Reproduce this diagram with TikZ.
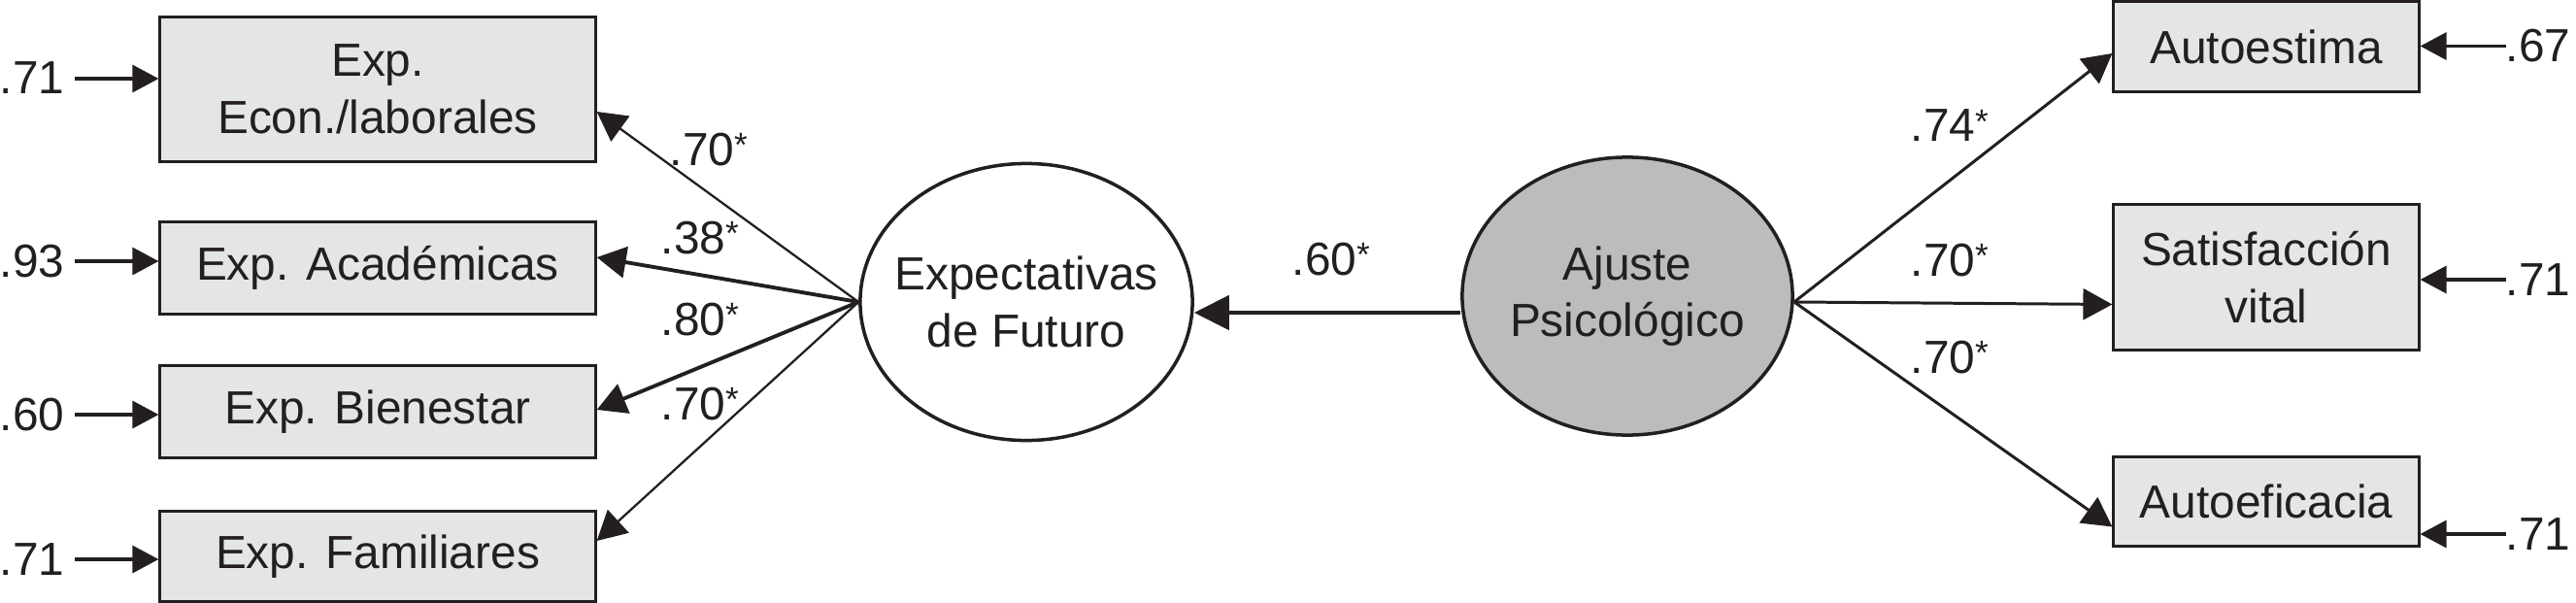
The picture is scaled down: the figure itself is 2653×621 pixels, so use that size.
\documentclass[tikz,border=0pt]{standalone}
\usepackage{fontspec}
\setmainfont{Liberation Sans}
\usetikzlibrary{arrows.meta,calc,shapes.geometric}
\definecolor{ink}{RGB}{35,31,32}
\definecolor{boxfill}{RGB}{228,229,231}
\definecolor{latfill}{RGB}{187,188,190}
\newcommand{\sg}{\raisebox{2.5pt}{\fontsize{10}{10}\selectfont *}}
\begin{document}
\begin{tikzpicture}[x=0.01cm,y=-0.01cm,
  font=\fontsize{13.6}{16.7}\selectfont,
  obsL/.style={rectangle,draw=ink,line width=0.85pt,fill=boxfill,minimum width=4.48cm,align=center,inner sep=0pt,text=ink},
  obsR/.style={rectangle,draw=ink,line width=0.85pt,fill=boxfill,minimum width=3.14cm,align=center,inner sep=0pt,text=ink},
  lat/.style={ellipse,draw=ink,line width=1pt,inner sep=0pt},
  lattext/.style={align=center,inner sep=0pt,text=ink},
  pthin/.style={draw=ink,line width=0.65pt,-{Triangle[length=0.30cm,width=0.32cm]}},
  pthick/.style={draw=ink,line width=1.1pt,-{Triangle[length=0.30cm,width=0.32cm]}},
  pright/.style={draw=ink,line width=0.85pt,-{Triangle[length=0.30cm,width=0.32cm]}},
  pmain/.style={draw=ink,line width=1.4pt,-{Triangle[length=0.36cm,width=0.35cm]}},
  res/.style={draw=ink,line width=0.95pt,-{Triangle[length=0.27cm,width=0.28cm]}},
  coef/.style={anchor=base west,inner sep=0pt,text=ink},
  errL/.style={anchor=base east,inner sep=0pt,text=ink},
  errR/.style={anchor=base west,inner sep=0pt,text=ink}]
\useasboundingbox (0,0) rectangle (2653,621);

% observed indicators (left)
\node[obsL,minimum height=1.48cm] (b1) at (389,92) {Exp.\\Econ./laborales};
\node[obsL,minimum height=0.94cm] (b2) at (389,276) {Exp. Académicas};
\node[obsL,minimum height=0.94cm] (b3) at (389,424) {Exp. Bienestar};
\node[obsL,minimum height=0.92cm] (b4) at (389,573) {Exp. Familiares};

% observed indicators (right)
\node[obsR,minimum height=0.92cm] (a1) at (2334,48) {Autoestima};
\node[obsR,minimum height=1.49cm] (a2) at (2334,285.5) {Satisfacción\\vital};
\node[obsR,minimum height=0.91cm] (a3) at (2334,516.5) {Autoeficacia};

% latent variables
\node[lat,fill=white,minimum width=3.42cm,minimum height=2.85cm] (ef) at (1057,311) {};
\node[lattext] (eft) at (ef.center) {Expectativas\\de Futuro};
\node[lat,fill=latfill,minimum width=3.40cm,minimum height=2.86cm] (aj) at (1676,305) {};
\node[lattext] (ajt) at (aj.center) {Ajuste\\Psicológico};

% loadings left
\draw[pthin]  (ef.west) -- ($(b1.east)+(0,23)$);
\draw[pthick] (ef.west) -- ($(b2.east)+(0,-11)$);
\draw[pthick] (ef.west) -- ($(b3.east)+(0,-2)$);
\draw[pthin]  (ef.west) -- ($(b4.east)+(0,-16)$);

% structural path
\coordinate (mid) at (0,322);
\draw[pmain] (aj.west |- mid) -- (ef.east |- mid);

% loadings right
\coordinate (ajo) at ($(aj.east)+(0,6)$);
\draw[pright] (ajo) -- ($(a1.west)+(0,7)$);
\draw[pright] (ajo) -- ($(a2.west)+(0,28)$);
\draw[pright] (ajo) -- ($(a3.west)+(0,26)$);

% coefficients
\node[coef] (c1) at (689,170) {.70\sg};
\node[coef] (c2) at (680,261) {.38\sg};
\node[coef] (c3) at (680,345) {.80\sg};
\node[coef] (c4) at (680,432) {.70\sg};
\node[coef] (c5) at (1330,283) {.60\sg};
\node[coef] (c6) at (1967,146) {.74\sg};
\node[coef] (c7) at (1967,284) {.70\sg};
\node[coef] (c8) at (1967,384) {.70\sg};

% residuals left
\coordinate (e1) at (77,81);
\coordinate (e2) at (77,269);
\coordinate (e3) at (77,427);
\coordinate (e4) at (77,576);
\draw[res] (e1) -- (b1.west |- e1);
\draw[res] (e2) -- (b2.west |- e2);
\draw[res] (e3) -- (b3.west |- e3);
\draw[res] (e4) -- (b4.west |- e4);
\node[errL] (r1) at (67,97) {.71};
\node[errL] (r2) at (67,285) {.93};
\node[errL] (r3) at (67,443) {.60};
\node[errL] (r4) at (67,592) {.71};

% residuals right
\coordinate (f1) at (2581,47.5);
\coordinate (f2) at (2581,288);
\coordinate (f3) at (2581,550);
\draw[res] (f1) -- (a1.east |- f1);
\draw[res] (f2) -- (a2.east |- f2);
\draw[res] (f3) -- (a3.east |- f3);
\node[errR] (s1) at (2580,63.5) {.67};
\node[errR] (s2) at (2580,304) {.71};
\node[errR] (s3) at (2580,566) {.71};
\end{tikzpicture}
\end{document}
